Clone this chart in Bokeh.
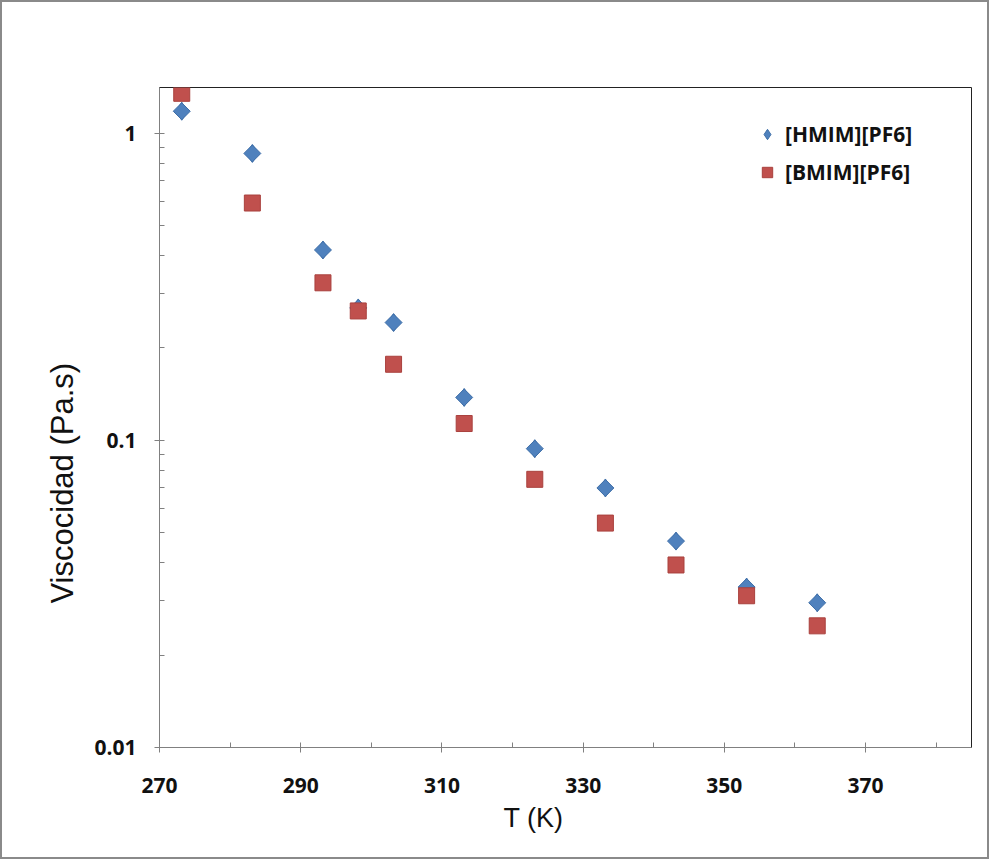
import math
from bokeh.plotting import figure
from bokeh.models import FixedTicker, Range1d, Legend, LegendItem, Title, LinearAxis
from bokeh.embed import file_html
from bokeh.resources import INLINE

# Data
T_hmim = [273.15, 283.15, 293.15, 298.15, 303.15, 313.15, 323.15, 333.15, 343.15, 353.15, 363.15]
visc_hmim = [1.18, 0.86, 0.417, 0.27, 0.242, 0.138, 0.094, 0.070, 0.047, 0.0333, 0.0296]
T_bmim = [273.15, 283.15, 293.15, 298.15, 303.15, 313.15, 323.15, 333.15, 343.15, 353.15, 363.15]
visc_bmim = [1.35, 0.593, 0.326, 0.264, 0.177, 0.1135, 0.0747, 0.0538, 0.0393, 0.0312, 0.0249]

x_major = [270, 290, 310, 330, 350, 370]
x_minor = [280, 300, 320, 340, 360, 380]
y_major = [0.01, 0.1, 1]
y_minor = [0.02, 0.03, 0.04, 0.05, 0.06, 0.07, 0.08, 0.09,
           0.2, 0.3, 0.4, 0.5, 0.6, 0.7, 0.8, 0.9]
y_labels = {0.01: "0.01", 0.1: "0.1", 1: "1"}
x_title = "T (K)"
y_title = "Viscocidad (Pa.s)"
series_names = ["[HMIM][PF6]", "[BMIM][PF6]"]

p = figure(width=989, height=859, y_axis_type="log",
           x_range=Range1d(270, 385), y_range=Range1d(0.01, 1.41),
           output_backend="svg", toolbar_location=None,
           min_border_left=157, min_border_right=20, min_border_top=85, min_border_bottom=114)
p.styles = {"border": "2px solid #8a8a8a"}

p.xgrid.visible = False
p.ygrid.visible = False
p.outline_line_color = "#222222"
p.outline_line_width = 1

p.xaxis.ticker = FixedTicker(ticks=x_major, minor_ticks=x_minor)
p.yaxis.ticker = FixedTicker(ticks=y_major, minor_ticks=y_minor)
p.yaxis.major_label_overrides = y_labels

for ax in (p.xaxis, p.yaxis):
    ax.axis_line_color = "#808080"
    ax.major_tick_line_color = "#808080"
    ax.minor_tick_line_color = "#808080"
    ax.major_tick_in = 5
    ax.major_tick_out = 5
    ax.minor_tick_in = 5
    ax.minor_tick_out = 0
    ax.major_label_text_font = "Open Sans"
    ax.major_label_text_font_style = "bold"
    ax.major_label_text_font_size = "21px"
    ax.major_label_text_color = "#111111"

p.xaxis.major_label_standoff = 25
p.yaxis.major_label_standoff = 18

# tick-less axis used only as vertical space above the x title
spacer = LinearAxis(ticker=FixedTicker(ticks=[], minor_ticks=[]),
                    major_tick_in=0, major_tick_out=20,
                    minor_tick_in=0, minor_tick_out=0,
                    axis_line_alpha=0, major_tick_line_color="#ffffff",
                    minor_tick_line_color="#ffffff")
p.add_layout(spacer, "below")

# axis titles (offset from frame centre like the reference)
p.add_layout(Title(text=y_title, align="left", offset=144, standoff=24,
                   text_font="Liberation Sans", text_font_size="31px",
                   text_font_style="normal", text_color="#111111"), "left")
p.add_layout(Title(text=x_title, align="left", offset=344, standoff=10,
                   text_font="Liberation Sans", text_font_size="27px",
                   text_font_style="normal", text_color="#111111"), "below")

# legend swatch for the diamond series, hidden under the rotated squares
r1_key = p.scatter(T_hmim, visc_hmim, marker="diamond", size=18,
                   fill_color="#4F81BD", line_color="#3F6FA8")
r1 = p.scatter(T_hmim, visc_hmim, marker="square", size=12, angle=math.pi / 4,
               fill_color="#4F81BD", line_color="#3F6FA8")
r2 = p.scatter(T_bmim, visc_bmim, marker="square", size=16,
               fill_color="#C0504D", line_color="#A9403D")

legend = Legend(items=[LegendItem(label=series_names[0], renderers=[r1_key]),
                       LegendItem(label=series_names[1], renderers=[r2])],
                location=(595, 561))
legend.border_line_color = None
legend.background_fill_alpha = 0
legend.label_text_font = "Open Sans"
legend.label_text_font_style = "bold"
legend.label_text_font_size = "21px"
legend.label_text_color = "#111111"
legend.glyph_width = 26
legend.glyph_height = 26
legend.label_standoff = 5
legend.spacing = 10
legend.margin = 0
legend.padding = 0
p.add_layout(legend)

open("out.html", "w").write(file_html(p, INLINE))
